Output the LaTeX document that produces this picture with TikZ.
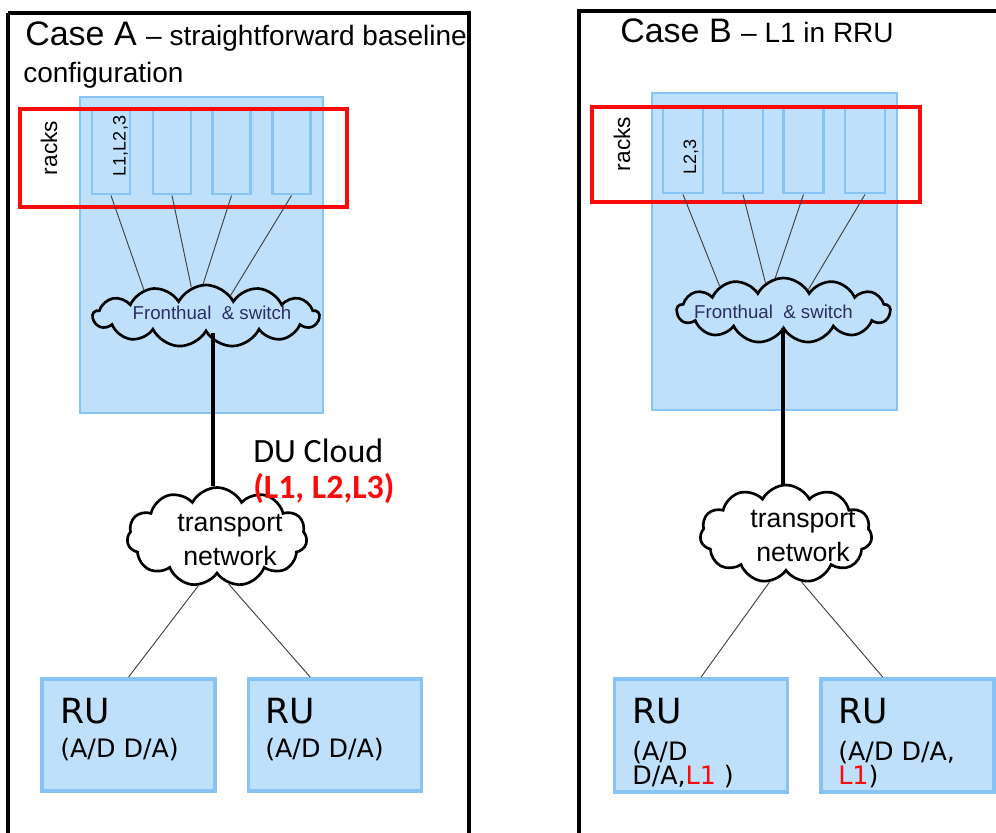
\documentclass[tikz,border=0pt]{standalone}
\usepackage{fontspec}
\setmainfont{Liberation Sans}
\newfontfamily\calibrifont{Carlito}
\newfontfamily\verdfont{DejaVu Sans}
\usetikzlibrary{shapes.symbols,calc}
\definecolor{paneFill}{RGB}{191,224,250}
\definecolor{paneLine}{RGB}{135,195,245}
\definecolor{rackRed}{RGB}{250,10,10}
\definecolor{navyText}{RGB}{45,45,100}
\begin{document}
\begin{tikzpicture}[x=0.75pt,y=-0.75pt,
  frame/.style={draw=black,line width=3pt},
  panel/.style={draw=paneLine,fill=paneFill,line width=2.2pt,inner sep=0pt},
  rack/.style={draw=paneLine,fill=paneFill,line width=2.2pt,inner sep=0pt,minimum height=63pt},
  redbox/.style={draw=rackRed,line width=2.8pt,inner sep=0pt},
  rubox/.style={draw=paneLine,fill=paneFill,line width=2.8pt,inner sep=0pt,minimum width=129.75pt,minimum height=84pt},
  netcloud/.style={cloud,draw=black,line width=2pt,inner sep=0pt,cloud ignores aspect,cloud puff arc=125},
  wire/.style={draw=black!75,line width=0.7pt},
  trunk/.style={draw=black,line width=3.6pt},
  rotlabel/.style={rotate=90,inner sep=0pt,font=\fontsize{17}{20}\selectfont},
  rulabel/.style={anchor=base west,inner sep=0pt,font=\verdfont\fontsize{26}{30}\selectfont},
  rusub/.style={anchor=base west,inner sep=0pt,align=left,font=\verdfont\fontsize{19}{18}\selectfont},
  cloudtext/.style={inner sep=0pt,align=center,font=\fontsize{20}{26}\selectfont},
  fhtext/.style={inner sep=0pt,text=navyText,font=\fontsize{14}{16}\selectfont}]
\useasboundingbox (0,0) rectangle (996,832);
\clip (0,0) rectangle (996,832);

% ---------------- Case A ----------------
\begin{scope}
  \clip (10,15) rectangle (467,120);
  \node[anchor=base west,inner sep=0pt] (titleA) at (25,45)
    {\fontsize{25.5}{30}\selectfont Case A \fontsize{21}{25}\selectfont– straightforward baseline};
\end{scope}
\node[anchor=base west,inner sep=0pt,font=\fontsize{21}{25}\selectfont] (titleA2) at (23,82) {configuration};

\node[panel,minimum width=182.25pt,minimum height=237pt] (panA) at (201.5,255) {};
\node[rack,minimum width=28.5pt] (ra1) at (111,152) {};
\node[rack,minimum width=28.5pt] (ra2) at (172,152) {};
\node[rack,minimum width=28.5pt] (ra3) at (231.5,152) {};
\node[rack,minimum width=28.5pt] (ra4) at (291.5,152) {};
\node[redbox,minimum width=245.25pt,minimum height=73.5pt] (redA) at (183.5,158) {};
\node[rotlabel] (racksA) at (49,148) {racks};
\node[rotlabel,font=\fontsize{13.5}{16}\selectfont] (layA) at (120.5,146) {L1,L2,3};

\node[netcloud,fill=paneFill,cloud puffs=13,minimum width=169.5pt,minimum height=46.5pt] (fhA) at (206,316) {};
\node[fhtext] (fhAt) at (212,313) {Fronthual\ \ \& switch};
\draw[wire] (ra1.south) -- (fhA.157);
\draw[wire] (ra2.south) -- (fhA.117);
\draw[wire] (ra3.south) -- (fhA.95);
\draw[wire] (ra4.south) -- (fhA.40);

\node[netcloud,fill=white,cloud puffs=11,minimum width=135pt,minimum height=74.25pt] (trA) at (217,537) {};
\node[cloudtext] (trAt) at (230,540) {transport\\network};
\coordinate (trunkA) at (213,0);
\draw[trunk] (fhA.south -| trunkA) -- (trA.north -| trunkA);

\node[anchor=base west,inner sep=0pt,font=\calibrifont\fontsize{25.5}{30}\selectfont] (duA) at (253,462) {DU Cloud};
\node[anchor=base west,inner sep=0pt,text=rackRed,font=\calibrifont\bfseries\fontsize{25.5}{30}\selectfont] (duAl) at (253,498) {(L1, L2,L3)};

\node[rubox] (ruA1) at (128.5,735) {};
\node[rubox] (ruA2) at (335,735) {};
\draw[wire] (trA.-111) -- (ruA1.north);
\draw[wire] (trA.-76) -- ($(ruA2.north west)!0.36!(ruA2.north east)$);
\node[rulabel] (ruA1t) at (60,723) {RU};
\node[rusub] (ruA1s) at (60,757) {(A/D D/A)};
\node[rulabel] (ruA2t) at (265,723) {RU};
\node[rusub] (ruA2s) at (265,757) {(A/D D/A)};

\draw[frame] (8,13) -- (8,860);
\draw[frame] (8,13) -- (469,13) -- (469,860);

% ---------------- Case B ----------------
\node[anchor=base west,inner sep=0pt] (titleB) at (620,42)
  {\fontsize{25.5}{30}\selectfont Case B \fontsize{21}{25}\selectfont– L1 in RRU};

\node[panel,minimum width=183.75pt,minimum height=237.75pt] (panB) at (774.5,251.5) {};
\node[rack,minimum width=30pt,minimum height=63.75pt] (rb1) at (683,150.5) {};
\node[rack,minimum width=30pt,minimum height=63.75pt] (rb2) at (743,150.5) {};
\node[rack,minimum width=30pt,minimum height=63.75pt] (rb3) at (803.5,150.5) {};
\node[rack,minimum width=30pt,minimum height=63.75pt] (rb4) at (865,150.5) {};
\node[redbox,minimum width=246pt,minimum height=71.25pt] (redB) at (756,154.5) {};
\node[rotlabel] (racksB) at (622,144) {racks};
\node[rotlabel,font=\fontsize{13.5}{16}\selectfont] (layB) at (691,157) {L2,3};

\node[netcloud,fill=paneFill,cloud puffs=13,minimum width=160pt,minimum height=48.75pt] (fhB) at (783.5,310.5) {};
\node[fhtext] (fhBt) at (773.5,312) {Fronthual\ \ \& switch};
\draw[wire] (rb1.south) -- (fhB.159);
\draw[wire] (rb2.south) -- (fhB.123);
\draw[wire] (rb3.south) -- (fhB.104);
\draw[wire] (rb4.south) -- (fhB.40);

\node[netcloud,fill=white,cloud puffs=11,minimum width=129pt,minimum height=73.5pt] (trB) at (786,534) {};
\node[cloudtext] (trBt) at (803,536) {transport\\network};
\coordinate (trunkB) at (783,0);
\draw[trunk] (fhB.south -| trunkB) -- (trB.north -| trunkB);

\node[rubox,minimum height=84.75pt] (ruB1) at (701,735.5) {};
\node[rubox,minimum height=84.75pt] (ruB2) at (907.5,735.5) {};
\draw[wire] (trB.-109) -- (ruB1.north);
\draw[wire] (trB.-72) -- ($(ruB2.north west)!0.36!(ruB2.north east)$);
\node[rulabel] (ruB1t) at (632,723) {RU};
\node[rusub] (ruB1s) at (632,784) {(A/D\\D/A,\textcolor{rackRed}{L1} )};
\node[rulabel] (ruB2t) at (838,723) {RU};
\node[rusub] (ruB2s) at (838,784) {(A/D D/A,\\\textcolor{rackRed}{L1})};

\draw[frame] (579,860) -- (579,11) -- (1020,11);
\end{tikzpicture}
\end{document}
